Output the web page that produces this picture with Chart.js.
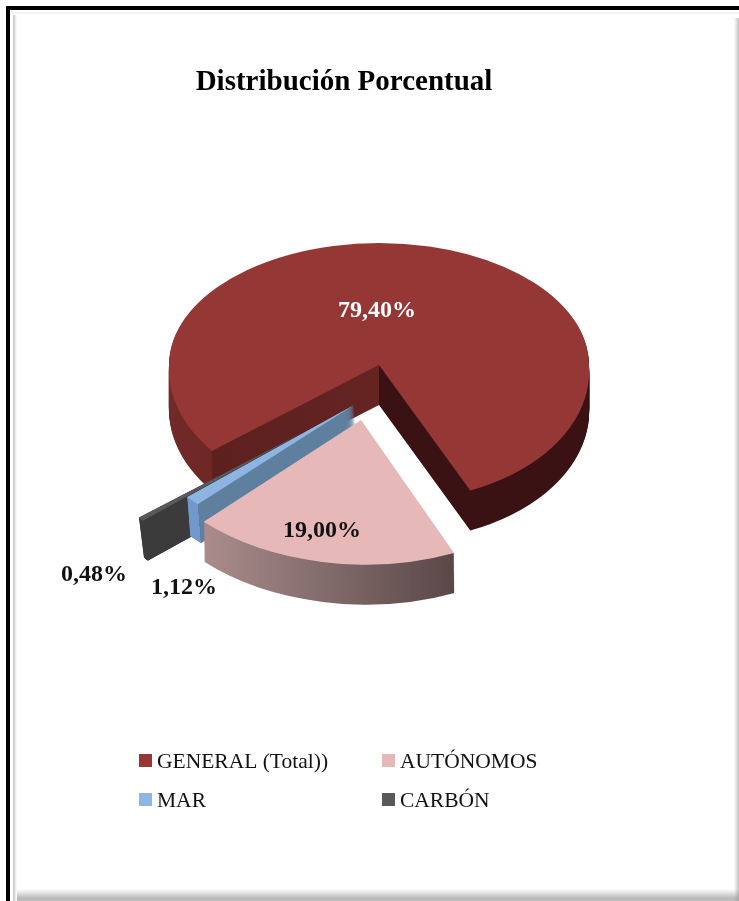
<!DOCTYPE html>
<html><head><meta charset="utf-8">
<style>html,body{margin:0;padding:0;background:#fff}canvas{display:block}</style>
<script src="https://cdn.jsdelivr.net/npm/chart.js@4/dist/chart.umd.min.js"></script>
</head><body>
<canvas id="c" width="739" height="901"></canvas>
<script>
const categories = ['GENERAL (Total))','AUTÓNOMOS','MAR','CARBÓN'];
const values = [79.40,19.00,1.12,0.48];
const colors = ['#953735','#E6B9B8','#8EB4E3','#595959'];
const titleText = 'Distribución Porcentual';
const FONT = '"Liberation Serif", serif';

// view of the pseudo-3D pie: explosion vector, radius factor, tilt, extrusion
const view = [
 {dx:35, dy:-31, rs:1,     kTop:.581, k:.65, shearL:-.03, shearR:.045, depth:40, lean:0, step:1, lx:-2,  ly:-55, lc:'#fff'},
 {dx:17, dy:24,  rs:1.076, k:.64, shearL:.02, shearR:.02, depth:40, lean:.5, step:1, lx:-39, ly:110, lc:'#111'},
 {dx:10, dy:9,   rs:1.048, k:.64, shearL:0, shearR:0,   depth:39, lean:3, step:.25, lx:-170,ly:182, lc:'#111'},
 {dx:-42,dy:37,  rs:1,     k:.64, shearL:0, shearR:0,   depth:40, lean:5, step:.25, lx:-208,ly:141, lc:'#111'}
];
const drawOrder = [0,3,2,1];

function sideFill(ctx, el, i, R){
  const cx = el.x;
  const g = ctx.createLinearGradient(cx-R,0,cx+R,0);
  const f = x => Math.min(1,Math.max(0,(x+R)/(2*R)));
  const a = R*Math.cos(el.startAngle), b = R*Math.cos(el.endAngle);
  if(i===0){
    g.addColorStop(0,'#722a28'); g.addColorStop(f(a),'#6e2725');
    g.addColorStop(f(a),'#5c201f'); g.addColorStop(.5,'#642422');
    g.addColorStop(.5,'#3a1213'); g.addColorStop(1,'#3a1213');
  } else if(i===1){
    g.addColorStop(f(b),'#ab8c8c'); g.addColorStop(f(b+(a-b)*.5),'#806a6a'); g.addColorStop(f(a),'#5a4746');
  } else if(i===2){
    g.addColorStop(f(b),'#7199cb'); g.addColorStop(f(a),'#7199cb');
    g.addColorStop(f(a),'#5f7f9f'); g.addColorStop(.5,'#5f7f9f');
  } else {
    g.addColorStop(0,'#3b3b3b'); g.addColorStop(1,'#3b3b3b');
  }
  return g;
}

function drawSlice(chart, el, i){
  const ctx = chart.ctx, v = view[i], base = el.options, r0 = el.outerRadius;
  const W = chart.width, H = chart.height;
  const ax = Math.round(el.x+v.dx), ay = Math.round(el.y+v.dy);
  const R = r0*v.rs;
  el.outerRadius = R;
  const side = Object.assign({}, base, {backgroundColor: sideFill(ctx, el, i, R)});
  for(let d=v.depth; d>=0; d-=v.step){
    el.options = d>0 ? side : base;
    const X = ax+v.lean*d/v.depth, Y = ay+d;
    const cy = Math.ceil(Y);
    const pieces = [
      [v.k, v.shearL, 0, cy, X, H-cy],      // lower left
      [v.k, v.shearR, X, cy, W-X, H-cy]     // lower right
    ];
    if(v.kTop) pieces.push([v.kTop, 0, 0, 0, W, cy]);   // far half
    for(const [k,s,rx,ry,rw,rh] of pieces){
      ctx.save();
      ctx.beginPath(); ctx.rect(rx,ry,rw,rh); ctx.clip();
      ctx.translate(X, Y);
      ctx.transform(1,0,s,k,0,0);
      ctx.translate(-el.x,-el.y);
      el.draw(ctx);
      ctx.restore();
    }
  }
  el.options = base;
  el.outerRadius = r0;
}

const pie3d = {
  id:'pie3d',
  beforeDraw(chart){
    const c = chart.ctx, W = chart.width, H = chart.height;
    c.save();
    c.fillStyle='#fff'; c.fillRect(0,0,W,H);
    let g = c.createLinearGradient(0,H-12,0,H-2);
    g.addColorStop(0,'rgba(150,150,150,0)'); g.addColorStop(1,'rgba(150,150,150,.7)');
    c.fillStyle=g; c.fillRect(15,H-12,W-15,10);
    c.fillStyle='#bdbdbd'; c.fillRect(13,H-2,W-13,2);
    g = c.createLinearGradient(W-5,0,W,0);
    g.addColorStop(0,'rgba(150,150,150,0)'); g.addColorStop(1,'rgba(150,150,150,.6)');
    c.fillStyle=g; c.fillRect(W-5,18,5,H-18);
    g = c.createLinearGradient(13,0,17,0);
    g.addColorStop(0,'#c4c4c4'); g.addColorStop(1,'#ffffff');
    c.fillStyle=g; c.fillRect(13,15,4,H-15);
    c.fillStyle='#f3f3f3'; c.fillRect(12,12,W-12,2);
    c.fillStyle='#000';
    c.fillRect(6,6,W-6,4);
    c.fillRect(6,6,4,H-6);
    c.restore();
  },
  beforeDatasetsDraw(chart){
    const arcs = chart.getDatasetMeta(0).data;
    drawOrder.forEach(i => drawSlice(chart, arcs[i], i));
    return false;
  },
  afterDraw(chart){
    const c = chart.ctx, arcs = chart.getDatasetMeta(0).data;
    c.save();
    c.textAlign='center'; c.textBaseline='middle';
    c.font='bold 24px '+FONT;
    values.forEach((val,i)=>{
      const v=view[i], el=arcs[i];
      c.fillStyle=v.lc;
      c.fillText(val.toFixed(2).replace('.',',')+'%', el.x+v.dx+v.lx, el.y+v.dy+v.ly);
    });
    // two-column legend
    c.textAlign='left'; c.textBaseline='alphabetic';
    c.font='21.5px '+FONT;
    const colX=[139,382], rowY=[754,793];
    categories.forEach((t,i)=>{
      const x=colX[i%2], y=rowY[i>>1];
      c.fillStyle=colors[i]; c.fillRect(x,y,13,13);
      c.fillStyle='#111'; c.fillText(t,x+18,y+14);
    });
    c.restore();
  }
};

new Chart(document.getElementById('c'),{
  type:'pie',
  data:{labels:categories,datasets:[{data:values,backgroundColor:colors,borderWidth:0}]},
  options:{
    responsive:false,animation:false,
    rotation:231,radius:210,
    layout:{padding:{right:51,bottom:218}},
    plugins:{
      legend:{display:false},
      tooltip:{enabled:false},
      title:{display:true,text:titleText,color:'#000',
        font:{family:FONT,weight:'bold',size:29},padding:{top:65,bottom:10}}
    }
  },
  plugins:[pie3d]
});
</script>
</body></html>
